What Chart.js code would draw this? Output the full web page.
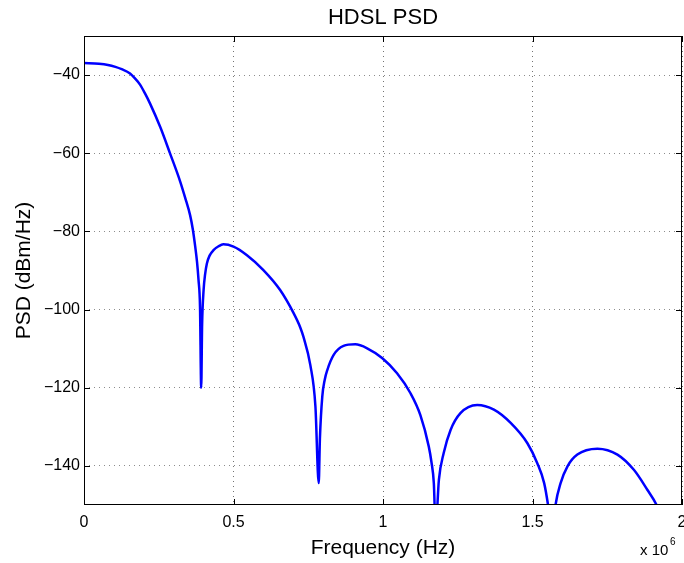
<!DOCTYPE html>
<html>
<head>
<meta charset="utf-8">
<title>HDSL PSD</title>
<script src="https://cdn.jsdelivr.net/npm/chart.js@4"></script>
<style>
  html, body { margin: 0; padding: 0; background: #fff; }
  #wrap { width: 684px; height: 563px; position: relative; }
</style>
</head>
<body>
<div id="wrap"><canvas id="psdChart" width="684" height="563"></canvas></div>
<script>
// values (frequency in MHz, PSD in dBm/Hz)
const freqMHz = [
    0.000, 0.050, 0.080, 0.105, 0.126, 0.154, 0.171, 0.188, 0.204, 0.221, 0.255, 0.288, 0.322, 0.338, 0.355, 0.364, 0.372, 0.378, 0.383, 0.388, 0.392,
    0.395, 0.400, 0.405, 0.411, 0.420, 0.433, 0.450, 0.466, 0.500, 0.545, 0.600, 0.656, 0.701, 0.723, 0.734, 0.757, 0.774, 0.785,
    0.789, 0.797, 0.805, 0.814, 0.835, 0.868, 0.907, 0.947, 0.997, 1.047, 1.092, 1.125, 1.153, 1.162, 1.170, 1.176,
    1.187, 1.203, 1.226, 1.259, 1.315, 1.371, 1.427, 1.483, 1.516, 1.539, 1.552, 1.566,
    1.577, 1.594, 1.617, 1.650, 1.717, 1.784, 1.839, 1.884, 1.915, 1.940
];
const psdDb = [
    -36.9, -37.1, -37.4, -37.9, -38.5, -39.6, -40.9, -42.5, -44.7, -47.3, -53.3, -60.1, -67.3, -71.3, -75.9, -79.5, -83.9, -87.8, -92.4, -99.3, -120.0,
    -104.0, -95.0, -91.0, -88.2, -86.2, -84.8, -83.8, -83.3, -83.9, -86.1, -89.9, -95.0, -100.9, -104.5, -107.0, -114.2, -124.8, -144.4,
    -133.0, -122.2, -118.0, -115.4, -111.6, -109.3, -108.9, -109.9, -112.4, -116.3, -121.4, -127.0, -135.0, -139.0, -144.4, -156.0,
    -143.5, -136.7, -130.8, -126.5, -124.4, -125.6, -129.0, -134.2, -139.3, -144.4, -150.0, -158.0,
    -150.0, -144.4, -140.1, -137.1, -135.6, -137.1, -141.0, -146.1, -150.0, -155.0
];
const xTicks = [0, 0.5, 1, 1.5, 2];          // x 10^6 Hz
const yTicks = [-140, -120, -100, -80, -60, -40];

const FONT = '"Liberation Sans", Arial, Helvetica, sans-serif';

// matlab style box, inward ticks and text
const matlabAxes = {
    id: 'matlabAxes',
    afterDraw(chart) {
        const { ctx, chartArea: a, scales } = chart;
        const tl = 6;
        ctx.save();
        ctx.strokeStyle = '#000';
        ctx.lineWidth = 1;
        ctx.setLineDash([]);
        ctx.strokeRect(Math.round(a.left) + 0.5, Math.round(a.top) + 0.5,
            Math.round(a.right - a.left) - 1, Math.round(a.bottom - a.top) - 1);
        ctx.beginPath();
        xTicks.forEach(v => {
            const px = Math.round(scales.x.getPixelForValue(v * 1e6)) + 0.5;
            ctx.moveTo(px, a.bottom); ctx.lineTo(px, a.bottom - tl);
            ctx.moveTo(px, a.top); ctx.lineTo(px, a.top + tl);
        });
        yTicks.forEach(v => {
            const py = Math.round(scales.y.getPixelForValue(v)) + 0.5;
            ctx.moveTo(a.left, py); ctx.lineTo(a.left + tl, py);
            ctx.moveTo(a.right, py); ctx.lineTo(a.right - tl, py);
        });
        ctx.stroke();

        const cx = (a.left + a.right) / 2;
        ctx.fillStyle = '#000';
        ctx.textAlign = 'center';
        ctx.textBaseline = 'alphabetic';
        ctx.font = '22px ' + FONT;
        ctx.fillText('HDSL PSD', cx, 24);
        ctx.font = '21px ' + FONT;
        ctx.fillText('Frequency (Hz)', cx, 554);

        ctx.save();
        ctx.translate(30, (a.top + a.bottom) / 2);
        ctx.rotate(-Math.PI / 2);
        ctx.fillText('PSD (dBm/Hz)', 0, 0);
        ctx.restore();

        ctx.textAlign = 'left';
        ctx.font = '15px ' + FONT;
        ctx.fillText('x 10', 640, 555);
        ctx.font = '10px ' + FONT;
        ctx.fillText('6', 670, 545);
        ctx.restore();
    }
};

const points = freqMHz.map((f, i) => ({ x: f * 1e6, y: psdDb[i] }));

new Chart(document.getElementById('psdChart'), {
    type: 'line',
    data: {
        datasets: [{
            data: points,
            borderColor: '#0000ff',
            borderWidth: 2.5,
            pointRadius: 0,
            fill: false,
            cubicInterpolationMode: 'monotone',
            clip: 0
        }]
    },
    options: {
        responsive: false,
        animation: false,
        events: [],
        layout: { padding: { left: 0, right: 2, top: 36, bottom: 0 } },
        plugins: { legend: { display: false }, tooltip: { enabled: false }, title: { display: false } },
        scales: {
            x: {
                type: 'linear', min: 0, max: 2e6,
                afterBuildTicks: s => { s.ticks = xTicks.map(v => ({ value: v * 1e6 })); },
                afterFit: s => { s.height = 58; s.paddingLeft = 0; s.paddingRight = 0; },
                grid: { color: 'rgba(0,0,0,0.55)', lineWidth: 1, drawTicks: false },
                border: { display: false, dash: [1, 4] },
                ticks: {
                    padding: 8, color: '#000', font: { family: FONT, size: 16 },
                    maxRotation: 0,
                    callback: v => String(v / 1e6)
                }
            },
            y: {
                type: 'linear', min: -150, max: -30,
                afterBuildTicks: s => { s.ticks = yTicks.map(v => ({ value: v })); },
                afterFit: s => { s.width = 84; s.paddingTop = 0; s.paddingBottom = 0; },
                grid: { color: 'rgba(0,0,0,0.45)', lineWidth: 1, drawTicks: false },
                border: { display: false, dash: [1, 4] },
                ticks: {
                    padding: 4, color: '#000', font: { family: FONT, size: 16 },
                    callback: v => (v < 0 ? '\u2212' : '') + Math.abs(v)
                }
            }
        }
    },
    plugins: [matlabAxes]
});
</script>
</body>
</html>
